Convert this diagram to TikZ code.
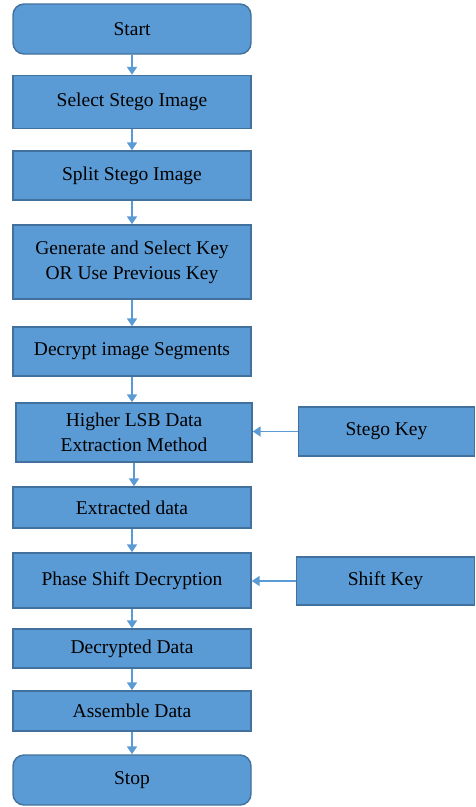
\documentclass[tikz,border=0pt]{standalone}
\usepackage{fontspec}
\setmainfont{Liberation Serif}
\usetikzlibrary{arrows.meta}
\definecolor{boxfill}{HTML}{5B9BD5}
\definecolor{boxline}{HTML}{41719C}
\definecolor{arrowc}{HTML}{5B9BD5}
\tikzset{
  stepbox/.style={draw=boxline, fill=boxfill, line width=1.4pt, inner sep=0pt,
    align=center, font=\fontsize{19.5pt}{25pt}\selectfont, text=black},
  termbox/.style={stepbox, rounded corners=11pt},
  flow/.style={draw=arrowc, line width=1.6pt, -{Triangle[width=10pt,length=8pt]}}
}
\begin{document}
\begin{tikzpicture}[x=1pt,y=-1pt]
\useasboundingbox (0,0) rectangle (475,807);
\node[termbox, minimum width=238pt, minimum height=50pt] (start) at (132,29) {Start};
\node[stepbox, minimum width=238pt, minimum height=53pt] (select) at (132,102) {Select Stego Image};
\node[stepbox, minimum width=238pt, minimum height=49pt] (split) at (132,175.5) {Split Stego Image};
\node[stepbox, minimum width=238pt, minimum height=74pt] (gen) at (132,262) {Generate and Select Key\\OR Use Previous Key};
\node[stepbox, minimum width=238pt, minimum height=49pt] (decseg) at (132,351.5) {Decrypt image Segments};
\node[stepbox, minimum width=236pt, minimum height=59pt] (higher) at (134,432.5) {Higher LSB Data\\Extraction Method};
\node[stepbox, minimum width=176pt, minimum height=49pt] (skey) at (386.5,431.5) {Stego Key};
\node[stepbox, minimum width=238pt, minimum height=41pt] (extr) at (132,507.5) {Extracted data};
\node[stepbox, minimum width=238pt, minimum height=55pt] (phase) at (132,580.5) {Phase Shift Decryption};
\node[stepbox, minimum width=178pt, minimum height=48pt] (shkey) at (385.5,581) {Shift Key};
\node[stepbox, minimum width=238pt, minimum height=39pt] (decd) at (132,648.5) {Decrypted Data};
\node[stepbox, minimum width=238pt, minimum height=40pt] (asm) at (132,711) {Assemble Data};
\node[termbox, minimum width=238pt, minimum height=50pt] (stop) at (132,780) {Stop};
\draw[flow] (start) -- (select);
\draw[flow] (select) -- (split);
\draw[flow] (split) -- (gen);
\draw[flow] (gen) -- (decseg);
\draw[flow] (decseg.south) -- (decseg.south |- higher.north);
\draw[flow] (higher.south) -- (higher.south |- extr.north);
\draw[flow] (extr) -- (phase);
\draw[flow] (phase) -- (decd);
\draw[flow] (decd) -- (asm);
\draw[flow] (asm) -- (stop);
\draw[flow] (skey.west) -- (higher.east |- skey.west);
\draw[flow] (shkey.west) -- (phase.east |- shkey.west);
\end{tikzpicture}
\end{document}
